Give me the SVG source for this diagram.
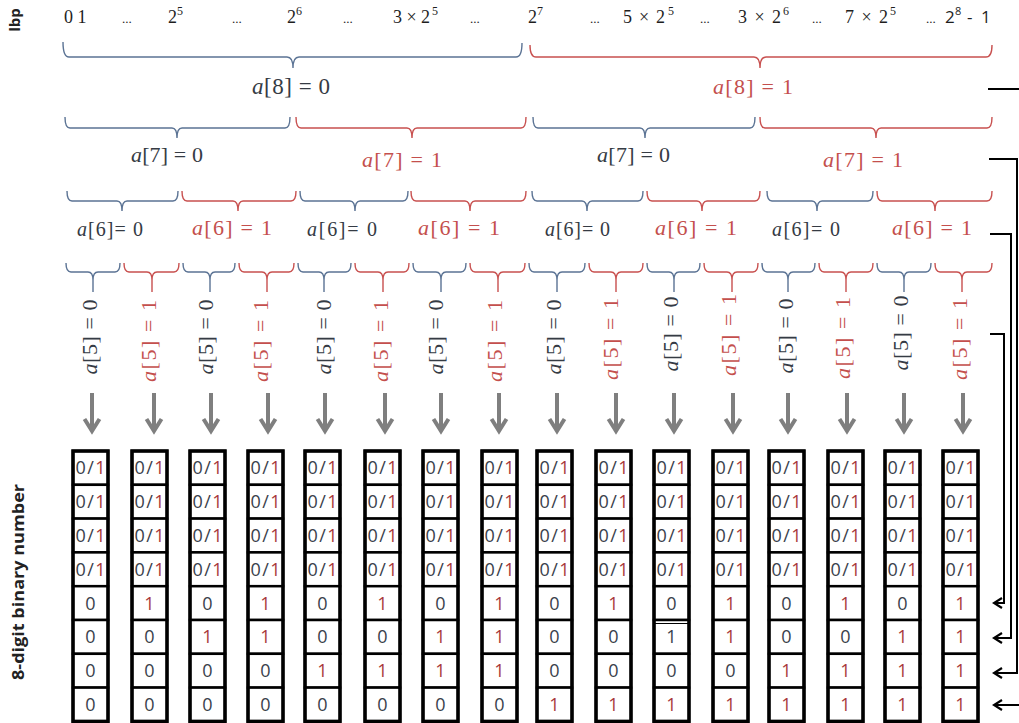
<svg xmlns="http://www.w3.org/2000/svg" width="1019" height="723" viewBox="0 0 1019 723">
<style>
.bb{fill:none;stroke:#5b7394;stroke-width:1.4}
.br{fill:none;stroke:#c8504f;stroke-width:1.4}
.m{font-family:"Liberation Serif","DejaVu Serif",serif}
.md{fill:#353b44}
.mr{fill:#c44f4d}
.it{font-style:italic}
.top{font-family:"Liberation Serif","DejaVu Serif",serif;fill:#1e1e1e}
.topS{font-family:"Open Sans","Liberation Sans",sans-serif;fill:#1e1e1e}
.ax{font-family:"Open Sans","Liberation Sans",sans-serif;font-weight:bold;fill:#222}
.cell{fill:#fff;stroke:#000;stroke-width:2.5}
.frame{fill:none;stroke:#000;stroke-width:3.5}
.c{font-family:"Open Sans","Liberation Sans",sans-serif;font-size:18px}
.c0{fill:#3a414c}
.c1{fill:#a8383b}
.ga{fill:none;stroke:#7f7f7f;stroke-width:4}
.conn{fill:none;stroke:#000;stroke-width:2}
</style>
<defs>
<marker id="ah" viewBox="-11 -7 13 14" refX="0" refY="0" markerWidth="13" markerHeight="14" orient="auto" markerUnits="userSpaceOnUse">
<path d="M-8,-5 L0,0 L-8,5" fill="none" stroke="#000" stroke-width="2.2"/>
</marker>
<g id="top4">
<rect class="cell" x="0" y="451" width="35" height="33.8"/>
<rect class="cell" x="0" y="484.8" width="35" height="33.8"/>
<rect class="cell" x="0" y="518.6" width="35" height="33.8"/>
<rect class="cell" x="0" y="552.4" width="35" height="33.8"/>
<text class="c" x="2.5" y="474.4" textLength="30" lengthAdjust="spacing"><tspan class="c0">0/</tspan><tspan class="c1">1</tspan></text>
<text class="c" x="2.5" y="508.2" textLength="30" lengthAdjust="spacing"><tspan class="c0">0/</tspan><tspan class="c1">1</tspan></text>
<text class="c" x="2.5" y="542" textLength="30" lengthAdjust="spacing"><tspan class="c0">0/</tspan><tspan class="c1">1</tspan></text>
<text class="c" x="2.5" y="575.8" textLength="30" lengthAdjust="spacing"><tspan class="c0">0/</tspan><tspan class="c1">1</tspan></text>
</g>
<g id="bot4">
<rect class="cell" x="0" y="586.2" width="35" height="33.8"/>
<rect class="cell" x="0" y="620" width="35" height="33.8"/>
<rect class="cell" x="0" y="653.8" width="35" height="33.8"/>
<rect class="cell" x="0" y="687.6" width="35" height="33.8"/>
<rect class="frame" x="0" y="451" width="35" height="270.4"/>
</g>
</defs>
<rect width="1019" height="723" fill="#fff"/>

<g id="axis-lbp"><text class="ax" style="font-size:15px" text-anchor="middle" transform="translate(20,20) rotate(-90)">lbp</text></g>
<g id="axis-binary"><text class="ax" style="font-size:16.5px" text-anchor="middle" textLength="196" lengthAdjust="spacingAndGlyphs" transform="translate(24,582) rotate(-90)">8-digit binary number</text></g>

<g id="lbp-values">
<text class="top" style="font-size:18px" x="64" y="23">0 1</text>
<text class="top" style="font-size:13px" x="122" y="23">...</text>
<text class="top" style="font-size:18px" x="168" y="23">2</text><text class="top" style="font-size:12px" x="177" y="15">5</text>
<text class="top" style="font-size:13px" x="232" y="23">...</text>
<text class="top" style="font-size:18px" x="287" y="23">2</text><text class="top" style="font-size:12px" x="296" y="15">6</text>
<text class="top" style="font-size:13px" x="343" y="23">...</text>
<text class="top" style="font-size:18px" x="393" y="23" textLength="37" lengthAdjust="spacing">3 × 2</text><text class="top" style="font-size:12px" x="432" y="15">5</text>
<text class="top" style="font-size:13px" x="470" y="23">...</text>
<text class="top" style="font-size:18px" x="528" y="23">2</text><text class="top" style="font-size:12px" x="537" y="15">7</text>
<text class="top" style="font-size:13px" x="590" y="23">...</text>
<text class="top" style="font-size:18px" x="623" y="23" textLength="42" lengthAdjust="spacing">5 × 2</text><text class="top" style="font-size:12px" x="668" y="15">5</text>
<text class="top" style="font-size:13px" x="700" y="23">...</text>
<text class="top" style="font-size:18px" x="738" y="23" textLength="43" lengthAdjust="spacing">3 × 2</text><text class="top" style="font-size:12px" x="783" y="15">6</text>
<text class="top" style="font-size:13px" x="812" y="23">...</text>
<text class="top" style="font-size:18px" x="845" y="23" textLength="43" lengthAdjust="spacing">7 × 2</text><text class="top" style="font-size:12px" x="890" y="15">5</text>
<text class="top" style="font-size:13px" x="926" y="23">...</text>
<text class="topS" style="font-size:17px" x="945" y="23">2</text><text class="topS" style="font-size:11px" x="955" y="15">8</text><text class="topS" style="font-size:17px" x="967" y="23">-</text><text class="topS" style="font-size:17px" x="981" y="23">1</text>
</g>

<g id="level-a8">
<path class="bb" d="M63 42 Q63 57 69 57 H287 Q293 57 293 68 Q293 57 299 57 H516 Q522 57 522 43"/>
<path class="br" d="M530 45 Q530 57 536 57 H754 Q760 57 760 68 Q760 57 766 57 H986 Q992 57 992 45"/>
<text class="m md" style="font-size:23px" x="252" y="94" textLength="78" lengthAdjust="spacing"><tspan class="it">a</tspan>[8] = 0</text>
<text class="m mr" style="font-size:22px" x="713" y="94" textLength="80" lengthAdjust="spacing"><tspan class="it">a</tspan>[8] = 1</text>
</g>

<g id="level-a7">
<path class="bb" d="M65 117 Q65 128 70 128 H172 Q177 128 177 138 Q177 128 182 128 H285 Q290 128 290 117"/>
<path class="br" d="M296 117 Q296 128 301 128 H407 Q412 128 412 138 Q412 128 417 128 H521 Q526 128 526 117"/>
<path class="bb" d="M533 117 Q533 128 538 128 H640 Q645 128 645 138 Q645 128 650 128 H750 Q755 128 755 117"/>
<path class="br" d="M760 117 Q760 128 765 128 H871 Q876 128 876 138 Q876 128 881 128 H987 Q992 128 992 117"/>
<text class="m md" style="font-size:22px" x="131" y="162" textLength="72" lengthAdjust="spacing"><tspan class="it">a</tspan>[7] = 0</text>
<text class="m mr" style="font-size:22px" x="362" y="167" textLength="80" lengthAdjust="spacing"><tspan class="it">a</tspan>[7] = 1</text>
<text class="m md" style="font-size:22px" x="597" y="162" textLength="73" lengthAdjust="spacing"><tspan class="it">a</tspan>[7] = 0</text>
<text class="m mr" style="font-size:22px" x="823" y="167" textLength="80" lengthAdjust="spacing"><tspan class="it">a</tspan>[7] = 1</text>
</g>

<g id="level-a6">
<path class="bb" d="M67 191 Q67 201 72 201 H117 Q122 201 122 211 Q122 201 127 201 H173 Q178 201 178 191"/>
<path class="br" d="M182 191 Q182 201 187 201 H233 Q238 201 238 211 Q238 201 243 201 H291 Q296 201 296 191"/>
<path class="bb" d="M300 191 Q300 201 305 201 H350 Q355 201 355 211 Q355 201 360 201 H403 Q408 201 408 191"/>
<path class="br" d="M411 191 Q411 201 416 201 H465 Q470 201 470 211 Q470 201 475 201 H521 Q526 201 526 191"/>
<path class="bb" d="M532 191 Q532 201 537 201 H582 Q587 201 587 211 Q587 201 592 201 H638 Q643 201 643 191"/>
<path class="br" d="M647 191 Q647 201 652 201 H697 Q702 201 702 211 Q702 201 707 201 H755 Q760 201 760 191"/>
<path class="bb" d="M767 191 Q767 201 772 201 H812 Q817 201 817 211 Q817 201 822 201 H868 Q873 201 873 191"/>
<path class="br" d="M877 191 Q877 201 882 201 H930 Q935 201 935 211 Q935 201 940 201 H987 Q992 201 992 191"/>
<text class="m md" style="font-size:20px" x="77" y="236" textLength="66" lengthAdjust="spacing"><tspan class="it">a</tspan>[6]= 0</text>
<text class="m mr" style="font-size:22px" x="192" y="235" textLength="80" lengthAdjust="spacing"><tspan class="it">a</tspan>[6] = 1</text>
<text class="m md" style="font-size:20px" x="307" y="236" textLength="70" lengthAdjust="spacing"><tspan class="it">a</tspan>[6]= 0</text>
<text class="m mr" style="font-size:22px" x="418" y="235" textLength="82" lengthAdjust="spacing"><tspan class="it">a</tspan>[6] = 1</text>
<text class="m md" style="font-size:20px" x="545" y="236" textLength="65" lengthAdjust="spacing"><tspan class="it">a</tspan>[6]= 0</text>
<text class="m mr" style="font-size:22px" x="655" y="235" textLength="82" lengthAdjust="spacing"><tspan class="it">a</tspan>[6] = 1</text>
<text class="m md" style="font-size:20px" x="772" y="236" textLength="68" lengthAdjust="spacing"><tspan class="it">a</tspan>[6]= 0</text>
<text class="m mr" style="font-size:22px" x="892" y="235" textLength="80" lengthAdjust="spacing"><tspan class="it">a</tspan>[6] = 1</text>
</g>

<g id="level-a5">
<path class="bb" d="M66 263 Q66 272 71 272 H88 Q93 272 93 280 V292 M93 280 Q93 272 98 272 H115 Q120 272 120 263"/>
<path class="br" d="M124 263 Q124 272 129 272 H147 Q152 272 152 280 V292 M152 280 Q152 272 157 272 H174 Q179 272 179 263"/>
<path class="bb" d="M183 263 Q183 272 188 272 H205 Q210 272 210 280 V292 M210 280 Q210 272 215 272 H230 Q235 272 235 263"/>
<path class="br" d="M239 263 Q239 272 244 272 H262 Q267 272 267 280 V292 M267 280 Q267 272 272 272 H289 Q294 272 294 263"/>
<path class="bb" d="M298 263 Q298 272 303 272 H319 Q324 272 324 280 V292 M324 280 Q324 272 329 272 H346 Q351 272 351 263"/>
<path class="br" d="M355 263 Q355 272 360 272 H378 Q383 272 383 280 V292 M383 280 Q383 272 388 272 H404 Q409 272 409 263"/>
<path class="bb" d="M413 263 Q413 272 418 272 H436 Q441 272 441 280 V292 M441 280 Q441 272 446 272 H461 Q466 272 466 263"/>
<path class="br" d="M470 263 Q470 272 475 272 H493 Q498 272 498 280 V292 M498 280 Q498 272 503 272 H520 Q525 272 525 263"/>
<path class="bb" d="M529 263 Q529 272 534 272 H552 Q557 272 557 280 V292 M557 280 Q557 272 562 272 H580 Q585 272 585 263"/>
<path class="br" d="M589 263 Q589 272 594 272 H611 Q616 272 616 280 V292 M616 280 Q616 272 621 272 H638 Q643 272 643 263"/>
<path class="bb" d="M647 263 Q647 272 652 272 H669 Q674 272 674 280 V292 M674 280 Q674 272 679 272 H695 Q700 272 700 263"/>
<path class="br" d="M704 263 Q704 272 709 272 H727 Q732 272 732 280 V292 M732 280 Q732 272 737 272 H753 Q758 272 758 263"/>
<path class="bb" d="M762 263 Q762 272 767 272 H783 Q788 272 788 280 V292 M788 280 Q788 272 793 272 H810 Q815 272 815 263"/>
<path class="br" d="M819 263 Q819 272 824 272 H841 Q846 272 846 280 V292 M846 280 Q846 272 851 272 H868 Q873 272 873 263"/>
<path class="bb" d="M877 263 Q877 272 882 272 H899 Q904 272 904 280 V292 M904 280 Q904 272 909 272 H926 Q931 272 931 263"/>
<path class="br" d="M935 263 Q935 272 940 272 H957 Q962 272 962 280 V292 M962 280 Q962 272 967 272 H987 Q992 272 992 263"/>
<text class="m md" style="font-size:22px" text-anchor="middle" textLength="75" lengthAdjust="spacing" transform="translate(97,337) rotate(-90)"><tspan class="it">a</tspan>[5] = 0</text>
<text class="m mr" style="font-size:22px" text-anchor="middle" textLength="82" lengthAdjust="spacing" transform="translate(156,341) rotate(-90)"><tspan class="it">a</tspan>[5] = 1</text>
<text class="m md" style="font-size:22px" text-anchor="middle" textLength="75" lengthAdjust="spacing" transform="translate(213,337) rotate(-90)"><tspan class="it">a</tspan>[5] = 0</text>
<text class="m mr" style="font-size:22px" text-anchor="middle" textLength="82" lengthAdjust="spacing" transform="translate(268,341) rotate(-90)"><tspan class="it">a</tspan>[5] = 1</text>
<text class="m md" style="font-size:22px" text-anchor="middle" textLength="75" lengthAdjust="spacing" transform="translate(331,337) rotate(-90)"><tspan class="it">a</tspan>[5] = 0</text>
<text class="m mr" style="font-size:22px" text-anchor="middle" textLength="82" lengthAdjust="spacing" transform="translate(388,341) rotate(-90)"><tspan class="it">a</tspan>[5] = 1</text>
<text class="m md" style="font-size:22px" text-anchor="middle" textLength="75" lengthAdjust="spacing" transform="translate(443,337) rotate(-90)"><tspan class="it">a</tspan>[5] = 0</text>
<text class="m mr" style="font-size:22px" text-anchor="middle" textLength="82" lengthAdjust="spacing" transform="translate(502,341) rotate(-90)"><tspan class="it">a</tspan>[5] = 1</text>
<text class="m md" style="font-size:22px" text-anchor="middle" textLength="75" lengthAdjust="spacing" transform="translate(561,337) rotate(-90)"><tspan class="it">a</tspan>[5] = 0</text>
<text class="m mr" style="font-size:22px" text-anchor="middle" textLength="82" lengthAdjust="spacing" transform="translate(618,339) rotate(-90)"><tspan class="it">a</tspan>[5] = 1</text>
<text class="m md" style="font-size:22px" text-anchor="middle" textLength="75" lengthAdjust="spacing" transform="translate(678,334) rotate(-90)"><tspan class="it">a</tspan>[5] = 0</text>
<text class="m mr" style="font-size:22px" text-anchor="middle" textLength="82" lengthAdjust="spacing" transform="translate(736,335) rotate(-90)"><tspan class="it">a</tspan>[5] = 1</text>
<text class="m md" style="font-size:22px" text-anchor="middle" textLength="75" lengthAdjust="spacing" transform="translate(793,336) rotate(-90)"><tspan class="it">a</tspan>[5] = 0</text>
<text class="m mr" style="font-size:22px" text-anchor="middle" textLength="82" lengthAdjust="spacing" transform="translate(850,338) rotate(-90)"><tspan class="it">a</tspan>[5] = 1</text>
<text class="m md" style="font-size:22px" text-anchor="middle" textLength="75" lengthAdjust="spacing" transform="translate(908,333) rotate(-90)"><tspan class="it">a</tspan>[5] = 0</text>
<text class="m mr" style="font-size:22px" text-anchor="middle" textLength="82" lengthAdjust="spacing" transform="translate(967,339) rotate(-90)"><tspan class="it">a</tspan>[5] = 1</text>
</g>

<g id="connectors">
<path class="ga" d="M92 393 V430 M84.5 419 L92 431 L99.5 419"/>
<path class="ga" d="M154 393 V430 M146.5 419 L154 431 L161.5 419"/>
<path class="ga" d="M211 393 V430 M203.5 419 L211 431 L218.5 419"/>
<path class="ga" d="M268 393 V430 M260.5 419 L268 431 L275.5 419"/>
<path class="ga" d="M325 393 V430 M317.5 419 L325 431 L332.5 419"/>
<path class="ga" d="M385 393 V430 M377.5 419 L385 431 L392.5 419"/>
<path class="ga" d="M441 393 V430 M433.5 419 L441 431 L448.5 419"/>
<path class="ga" d="M499 393 V430 M491.5 419 L499 431 L506.5 419"/>
<path class="ga" d="M557 393 V430 M549.5 419 L557 431 L564.5 419"/>
<path class="ga" d="M616 393 V430 M608.5 419 L616 431 L623.5 419"/>
<path class="ga" d="M674 393 V430 M666.5 419 L674 431 L681.5 419"/>
<path class="ga" d="M733 393 V430 M725.5 419 L733 431 L740.5 419"/>
<path class="ga" d="M788 393 V430 M780.5 419 L788 431 L795.5 419"/>
<path class="ga" d="M847 393 V430 M839.5 419 L847 431 L854.5 419"/>
<path class="ga" d="M904 393 V430 M896.5 419 L904 431 L911.5 419"/>
<path class="ga" d="M963 393 V430 M955.5 419 L963 431 L970.5 419"/>
<path class="conn" marker-end="url(#ah)" d="M988 89 H1021 V705 H994"/>
<path class="conn" marker-end="url(#ah)" d="M989 159 H1017 V673 H994"/>
<path class="conn" marker-end="url(#ah)" d="M990 234 H1011 V638 H994"/>
<path class="conn" marker-end="url(#ah)" d="M990 334 H1004 V603 H994"/>
</g>

<g id="col1"><use href="#top4" x="73"/><use href="#bot4" x="73"/>
<text class="c c0" x="90.5" y="609.6" text-anchor="middle">0</text><text class="c c0" x="90.5" y="643.4" text-anchor="middle">0</text><text class="c c0" x="90.5" y="677.2" text-anchor="middle">0</text><text class="c c0" x="90.5" y="711" text-anchor="middle">0</text></g>
<g id="col2"><use href="#top4" x="132"/><use href="#bot4" x="132"/>
<text class="c c1" x="149.5" y="609.6" text-anchor="middle">1</text><text class="c c0" x="149.5" y="643.4" text-anchor="middle">0</text><text class="c c0" x="149.5" y="677.2" text-anchor="middle">0</text><text class="c c0" x="149.5" y="711" text-anchor="middle">0</text></g>
<g id="col3"><use href="#top4" x="190"/><use href="#bot4" x="190"/>
<text class="c c0" x="207.5" y="609.6" text-anchor="middle">0</text><text class="c c1" x="207.5" y="643.4" text-anchor="middle">1</text><text class="c c0" x="207.5" y="677.2" text-anchor="middle">0</text><text class="c c0" x="207.5" y="711" text-anchor="middle">0</text></g>
<g id="col4"><use href="#top4" x="248"/><use href="#bot4" x="248"/>
<text class="c c1" x="265.5" y="609.6" text-anchor="middle">1</text><text class="c c1" x="265.5" y="643.4" text-anchor="middle">1</text><text class="c c0" x="265.5" y="677.2" text-anchor="middle">0</text><text class="c c0" x="265.5" y="711" text-anchor="middle">0</text></g>
<g id="col5"><use href="#top4" x="305"/><use href="#bot4" x="305"/>
<text class="c c0" x="322.5" y="609.6" text-anchor="middle">0</text><text class="c c0" x="322.5" y="643.4" text-anchor="middle">0</text><text class="c c1" x="322.5" y="677.2" text-anchor="middle">1</text><text class="c c0" x="322.5" y="711" text-anchor="middle">0</text></g>
<g id="col6"><use href="#top4" x="365"/><use href="#bot4" x="365"/>
<text class="c c1" x="382.5" y="609.6" text-anchor="middle">1</text><text class="c c0" x="382.5" y="643.4" text-anchor="middle">0</text><text class="c c1" x="382.5" y="677.2" text-anchor="middle">1</text><text class="c c0" x="382.5" y="711" text-anchor="middle">0</text></g>
<g id="col7"><use href="#top4" x="423"/><use href="#bot4" x="423"/>
<text class="c c0" x="440.5" y="609.6" text-anchor="middle">0</text><text class="c c1" x="440.5" y="643.4" text-anchor="middle">1</text><text class="c c1" x="440.5" y="677.2" text-anchor="middle">1</text><text class="c c0" x="440.5" y="711" text-anchor="middle">0</text></g>
<g id="col8"><use href="#top4" x="482"/><use href="#bot4" x="482"/>
<text class="c c1" x="499.5" y="609.6" text-anchor="middle">1</text><text class="c c1" x="499.5" y="643.4" text-anchor="middle">1</text><text class="c c1" x="499.5" y="677.2" text-anchor="middle">1</text><text class="c c0" x="499.5" y="711" text-anchor="middle">0</text></g>
<g id="col9"><use href="#top4" x="537"/><use href="#bot4" x="537"/>
<text class="c c0" x="554.5" y="609.6" text-anchor="middle">0</text><text class="c c0" x="554.5" y="643.4" text-anchor="middle">0</text><text class="c c0" x="554.5" y="677.2" text-anchor="middle">0</text><text class="c c1" x="554.5" y="711" text-anchor="middle">1</text></g>
<g id="col10"><use href="#top4" x="596"/><use href="#bot4" x="596"/>
<text class="c c1" x="613.5" y="609.6" text-anchor="middle">1</text><text class="c c0" x="613.5" y="643.4" text-anchor="middle">0</text><text class="c c0" x="613.5" y="677.2" text-anchor="middle">0</text><text class="c c1" x="613.5" y="711" text-anchor="middle">1</text></g>
<g id="col11"><use href="#top4" x="654"/><use href="#bot4" x="654"/>
<line x1="655" y1="623.5" x2="688" y2="623.5" stroke="#000" stroke-width="1"/>
<text class="c c0" x="671.5" y="609.6" text-anchor="middle">0</text><text class="c c0" x="671.5" y="643.4" text-anchor="middle">1</text><text class="c c0" x="671.5" y="677.2" text-anchor="middle">0</text><text class="c c1" x="671.5" y="711" text-anchor="middle">1</text></g>
<g id="col12"><use href="#top4" x="713"/><use href="#bot4" x="713"/>
<text class="c c1" x="730.5" y="609.6" text-anchor="middle">1</text><text class="c c1" x="730.5" y="643.4" text-anchor="middle">1</text><text class="c c0" x="730.5" y="677.2" text-anchor="middle">0</text><text class="c c1" x="730.5" y="711" text-anchor="middle">1</text></g>
<g id="col13"><use href="#top4" x="769"/><use href="#bot4" x="769"/>
<text class="c c0" x="786.5" y="609.6" text-anchor="middle">0</text><text class="c c0" x="786.5" y="643.4" text-anchor="middle">0</text><text class="c c1" x="786.5" y="677.2" text-anchor="middle">1</text><text class="c c1" x="786.5" y="711" text-anchor="middle">1</text></g>
<g id="col14"><use href="#top4" x="828"/><use href="#bot4" x="828"/>
<text class="c c1" x="845.5" y="609.6" text-anchor="middle">1</text><text class="c c0" x="845.5" y="643.4" text-anchor="middle">0</text><text class="c c1" x="845.5" y="677.2" text-anchor="middle">1</text><text class="c c1" x="845.5" y="711" text-anchor="middle">1</text></g>
<g id="col15"><use href="#top4" x="885"/><use href="#bot4" x="885"/>
<text class="c c0" x="902.5" y="609.6" text-anchor="middle">0</text><text class="c c1" x="902.5" y="643.4" text-anchor="middle">1</text><text class="c c1" x="902.5" y="677.2" text-anchor="middle">1</text><text class="c c1" x="902.5" y="711" text-anchor="middle">1</text></g>
<g id="col16"><use href="#top4" x="943"/><use href="#bot4" x="943"/>
<text class="c c1" x="960.5" y="609.6" text-anchor="middle">1</text><text class="c c1" x="960.5" y="643.4" text-anchor="middle">1</text><text class="c c1" x="960.5" y="677.2" text-anchor="middle">1</text><text class="c c1" x="960.5" y="711" text-anchor="middle">1</text></g>
</svg>
